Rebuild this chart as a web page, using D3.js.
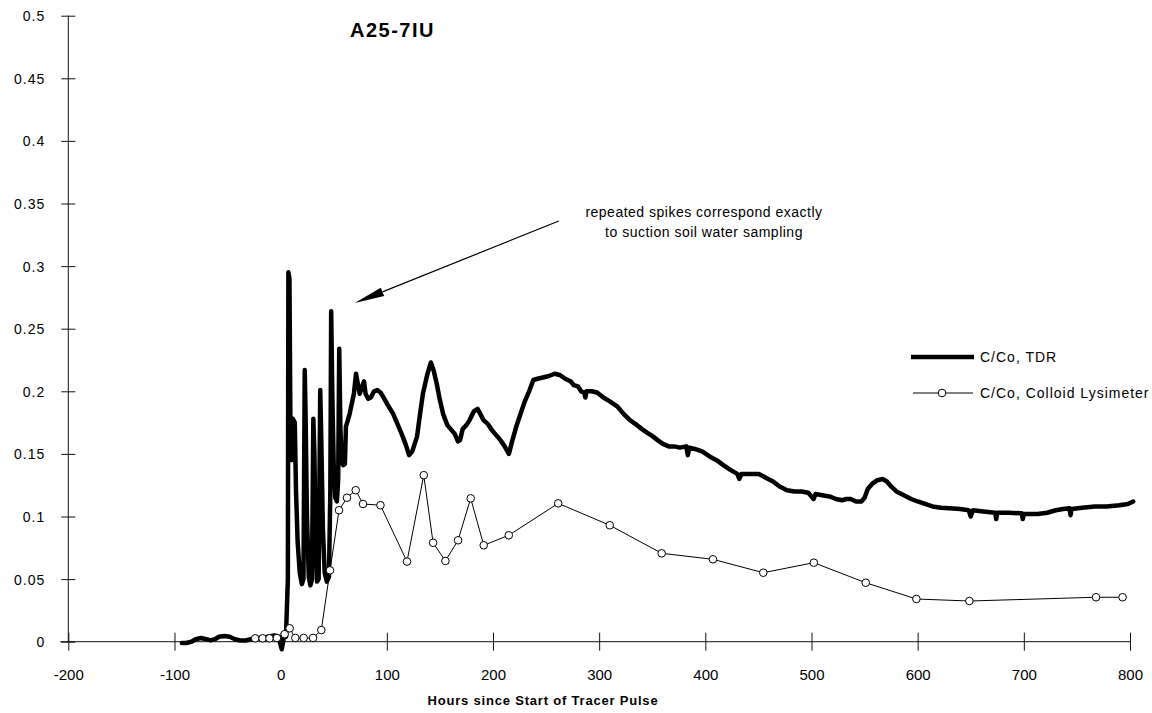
<!DOCTYPE html>
<html>
<head>
<meta charset="utf-8">
<script src="https://cdn.jsdelivr.net/npm/d3@7"></script>
<style>
  html, body { margin: 0; padding: 0; background: #fff; }
  svg { display: block; font-family: "Liberation Sans", Arial, Helvetica, sans-serif; }
</style>
</head>
<body>
<svg id="chart" width="1152" height="713"></svg>
<script>
// Axis ticks
const xTickValues = [-200, -100, 0, 100, 200, 300, 400, 500, 600, 700, 800];
const yTickValues = [0, 0.05, 0.1, 0.15, 0.2, 0.25, 0.3, 0.35, 0.4, 0.45, 0.5];
const yTickLabels = ["0", "0.05", "0.1", "0.15", "0.2", "0.25", "0.3", "0.35", "0.4", "0.45", "0.5"];

// C/Co from TDR (hours since start of tracer pulse, relative concentration)
const tdrHours = [
  -93, -89, -84, -80, -75, -70, -66, -62, -58, -53, -48, -43, -38, -33, -28, -23, -18, -12, -6, -2, 1, 3, 5,
  6.8, 7.3, 8.3, 9.3, 10.3, 11.5, 13.3, 14.5, 16, 18, 20, 21.5, 22.7, 23.5, 24.8, 26.5, 28, 29.5,
  30.8, 31.8, 33, 34.3, 35.8, 37.3, 38.3, 39.8, 41.5, 43.5, 45.5, 46.8, 47.6, 48.6, 50, 51.5, 53,
  54.2, 55.2, 56.3, 57.5, 59, 60.5, 61.5, 63, 65, 67, 69, 71, 72.5, 74.5, 76.5, 78.5, 80, 82.5, 85,
  88, 91, 94, 97, 101, 106, 110, 114, 118, 121, 124, 128.5, 131, 134, 138, 141.5, 144, 147, 150,
  153, 157, 161, 164, 167, 169, 171.5, 175, 178, 182, 185.5, 188, 191, 195, 199, 203, 207, 211,
  215, 218, 222, 226, 230, 234.5, 238, 242, 247, 252, 258, 263, 268, 273, 276, 280, 283, 286, 287,
  288, 293, 298, 304, 310, 317, 323, 329, 334, 340, 345, 350.6, 355, 360, 365.6, 371, 376, 382,
  383.5, 385, 390, 397, 404, 410.6, 417, 424, 430, 432, 434, 441, 450.5, 457, 463.8, 470, 477, 484,
  490.5, 497, 502, 503.8, 510, 517, 523, 528.8, 533, 537, 542, 547, 550, 553, 557, 562, 567, 571,
  575, 580, 587, 594, 600, 607, 614, 622, 630, 640, 648, 650, 652, 662, 673, 674, 675, 686, 698,
  699, 700, 713, 722, 730, 737, 743, 744, 745, 755, 767, 778, 790, 798, 803
];
const tdrValues = [
  -0.001, -0.001, 0.000, 0.002, 0.003, 0.002, 0.001, 0.002, 0.004, 0.0045, 0.004, 0.002, 0.001, 0.001, 0.002, 0.003, 0.003, 0.004, 0.005, 0.004, -0.006, 0.003, 0.004,
  0.05, 0.295, 0.29, 0.16, 0.145, 0.178, 0.175, 0.12, 0.08, 0.055, 0.046, 0.05, 0.217, 0.18, 0.1, 0.052, 0.045, 0.05,
  0.178, 0.15, 0.08, 0.048, 0.05, 0.201, 0.16, 0.09, 0.055, 0.048, 0.052, 0.12, 0.264, 0.2, 0.14, 0.115, 0.112,
  0.13, 0.234, 0.17, 0.143, 0.141, 0.142, 0.172, 0.176, 0.182, 0.19, 0.198, 0.214, 0.207, 0.198, 0.203, 0.208, 0.198, 0.194, 0.195,
  0.2, 0.201, 0.199, 0.195, 0.189, 0.182, 0.174, 0.166, 0.157, 0.149, 0.152, 0.164, 0.18, 0.198, 0.213, 0.223, 0.217, 0.206, 0.193,
  0.182, 0.173, 0.169, 0.166, 0.16, 0.161, 0.17, 0.173, 0.177, 0.184, 0.186, 0.182, 0.177, 0.174, 0.169, 0.165, 0.161, 0.156,
  0.15, 0.16, 0.172, 0.182, 0.192, 0.201, 0.209, 0.21, 0.211, 0.212, 0.214, 0.213, 0.21, 0.208, 0.205, 0.204, 0.2, 0.199, 0.195,
  0.2, 0.2, 0.199, 0.195, 0.192, 0.188, 0.182, 0.177, 0.174, 0.17, 0.167, 0.164, 0.161, 0.158, 0.156, 0.156, 0.155, 0.156,
  0.149, 0.155, 0.154, 0.152, 0.148, 0.145, 0.141, 0.137, 0.134, 0.13, 0.134, 0.134, 0.134, 0.131, 0.128, 0.124, 0.121, 0.12,
  0.12, 0.119, 0.114, 0.118, 0.117, 0.116, 0.114, 0.113, 0.114, 0.114, 0.112, 0.112, 0.115, 0.122, 0.126, 0.129, 0.13, 0.128,
  0.124, 0.12, 0.117, 0.114, 0.112, 0.11, 0.108, 0.107, 0.1065, 0.106, 0.105, 0.1, 0.105, 0.104, 0.103, 0.098, 0.103, 0.103, 0.1025,
  0.098, 0.102, 0.102, 0.103, 0.105, 0.106, 0.1065, 0.101, 0.106, 0.107, 0.108, 0.108, 0.109, 0.11, 0.112
];

// C/Co from the colloid lysimeter samples
const lysHours = [
  -24, -17, -10.5, -3.5, 3.8, 8.5, 13.8, 21.7, 30.5, 38.3, 46.5, 55, 62.5, 70.7, 77.6, 94, 119, 134.8,
  143.6, 155.2, 167.1, 179, 191.3, 214.9, 261.4, 310, 358.9, 407.2, 454.6, 502.2, 551.1, 598.8, 648.7, 768, 793
];
const lysValues = [
  0.0027, 0.0027, 0.0027, 0.003, 0.006, 0.0107, 0.003, 0.003, 0.003, 0.0093, 0.057, 0.105, 0.115, 0.121, 0.110, 0.109, 0.064, 0.133,
  0.079, 0.0645, 0.081, 0.1145, 0.077, 0.085, 0.1105, 0.093, 0.0706, 0.0658, 0.0551, 0.0631, 0.0471, 0.0341, 0.0325, 0.0355, 0.0355
];

// Callout: arrow pointing at the sampling spikes (data coordinates)
const calloutLines = ["repeated spikes correspond exactly", "to suction soil water sampling"];
const arrowFrom = [262, 0.336];
const arrowTo = [69.7, 0.2705];

const svg = d3.select("#chart");
const x = d3.scaleLinear().domain([-200, 800]).range([68.3, 1130]);
const y = d3.scaleLinear().domain([0, 0.5]).range([641.7, 15.7]);

// Y axis
const yAxis = svg.append("g").attr("transform", `translate(${x(-200)},0)`)
  .call(d3.axisLeft(y).tickValues(yTickValues).tickSize(0).tickFormat(""));
yAxis.select(".domain").attr("stroke", "#111").attr("stroke-width", 1).attr("d", `M0,${y(0)}V${y(0.5)}`);
yAxis.selectAll(".tick line").attr("x1", -7).attr("x2", 7).attr("stroke", "#111");
yAxis.selectAll(".tick").append("text")
  .attr("x", -23).attr("dy", "0.36em")
  .attr("text-anchor", "end")
  .attr("fill", "#000")
  .style("font-size", "14px")
  .style("letter-spacing", "1px")
  .text((d, i) => yTickLabels[i]);

// X axis
const xAxis = svg.append("g").attr("transform", `translate(0,${y(0)})`)
  .call(d3.axisBottom(x).tickValues(xTickValues).tickSize(0).tickFormat(""));
xAxis.select(".domain").attr("stroke", "#111").attr("stroke-width", 1).attr("d", `M${x(-200) - 8},0H${x(800)}`);
xAxis.selectAll(".tick line").attr("y1", -9).attr("y2", 9).attr("stroke", "#111");
xAxis.selectAll(".tick").append("text")
  .attr("y", 38)
  .attr("text-anchor", "middle")
  .attr("fill", "#000")
  .style("font-size", "15px")
  .text(d => d3.format("d")(d).replace("−", "-"));

// Axis title
svg.append("text")
  .attr("x", 543).attr("y", 705)
  .attr("text-anchor", "middle")
  .style("font-size", "13px").style("font-weight", "bold").style("letter-spacing", "0.8px")
  .text("Hours since Start of Tracer Pulse");

// Chart title
svg.append("text")
  .attr("x", 350).attr("y", 37)
  .style("font-size", "20px").style("font-weight", "bold").style("letter-spacing", "1.5px")
  .text("A25-7IU");

// TDR series
const tdr = tdrHours.map((h, i) => [h, tdrValues[i]]);
const lys = lysHours.map((h, i) => [h, lysValues[i]]);
const line = d3.line().x(d => x(d[0])).y(d => y(d[1]));

svg.append("path").datum(tdr)
  .attr("d", line)
  .attr("fill", "none").attr("stroke", "#000")
  .attr("stroke-width", 4.5).attr("stroke-linejoin", "round").attr("stroke-linecap", "round");

// Colloid lysimeter series
svg.append("path").datum(lys)
  .attr("d", line)
  .attr("fill", "none").attr("stroke", "#000").attr("stroke-width", 1);
svg.append("g").selectAll("circle").data(lys).join("circle")
  .attr("cx", d => x(d[0])).attr("cy", d => y(d[1])).attr("r", 3.8)
  .attr("fill", "#fff").attr("stroke", "#000").attr("stroke-width", 1);

// Callout text and arrow
const callout = svg.append("text")
  .attr("text-anchor", "middle")
  .style("font-size", "14px").style("letter-spacing", "0.5px");
callout.selectAll("tspan").data(calloutLines).join("tspan")
  .attr("x", 704).attr("y", (d, i) => 217 + i * 20)
  .text(d => d);

const ax0 = x(arrowFrom[0]), ay0 = y(arrowFrom[1]);
const ax1 = x(arrowTo[0]), ay1 = y(arrowTo[1]);
const ang = Math.atan2(ay1 - ay0, ax1 - ax0);
const headLen = 30, headHalf = 4.5;
const bx = ax1 - headLen * Math.cos(ang), by = ay1 - headLen * Math.sin(ang);
svg.append("line")
  .attr("x1", ax0).attr("y1", ay0).attr("x2", bx).attr("y2", by)
  .attr("stroke", "#000").attr("stroke-width", 1.2);
svg.append("path")
  .attr("d", `M${ax1},${ay1}L${bx + headHalf * Math.sin(ang)},${by - headHalf * Math.cos(ang)}L${bx - headHalf * Math.sin(ang)},${by + headHalf * Math.cos(ang)}Z`)
  .attr("fill", "#000");

// Legend
const legend = svg.append("g").style("font-size", "14px").style("letter-spacing", "1px");
legend.append("line").attr("x1", 911).attr("x2", 974).attr("y1", 357).attr("y2", 357)
  .attr("stroke", "#000").attr("stroke-width", 4.5);
legend.append("text").attr("x", 980).attr("y", 357).attr("dy", "0.36em").text("C/Co, TDR");
legend.append("line").attr("x1", 913).attr("x2", 973).attr("y1", 393).attr("y2", 393)
  .attr("stroke", "#000").attr("stroke-width", 1);
legend.append("circle").attr("cx", 942).attr("cy", 393).attr("r", 3.8)
  .attr("fill", "#fff").attr("stroke", "#000");
legend.append("text").attr("x", 980).attr("y", 393).attr("dy", "0.36em").text("C/Co, Colloid Lysimeter");
</script>
</body>
</html>
